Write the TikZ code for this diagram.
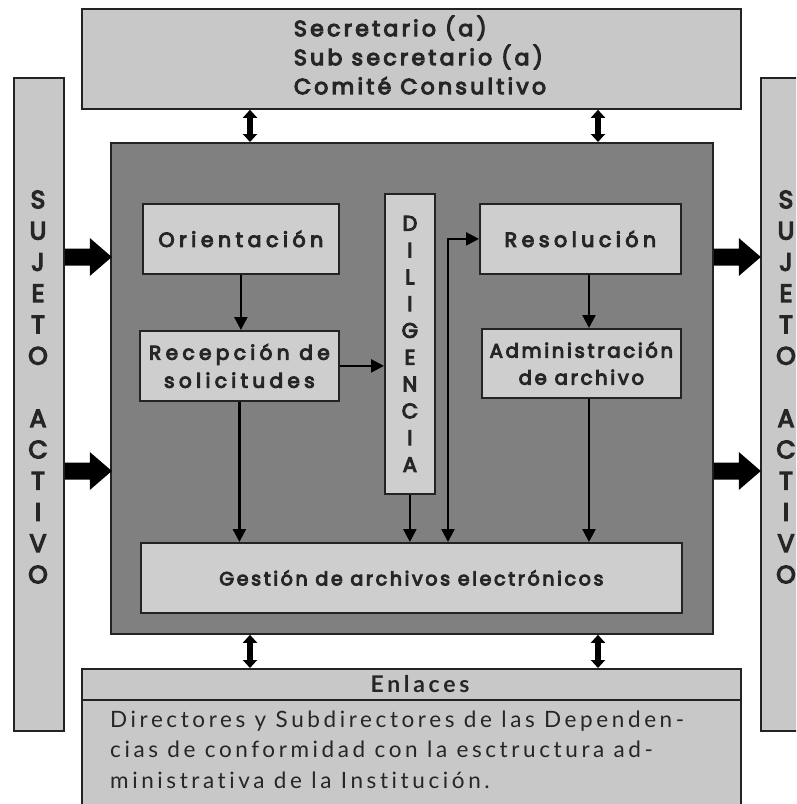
\documentclass[tikz,border=0pt]{standalone}
\usepackage{fontspec}
\setmainfont{Poppins}
\newfontfamily\popf{Poppins}[LetterSpace=15,FakeBold=5]
\newfontfamily\popg{Poppins}[LetterSpace=22,FakeBold=5]
\newfontfamily\poph{Poppins}[LetterSpace=14,FakeBold=5]
\newfontfamily\bodyf{Lato}[LetterSpace=16,Ligatures=NoCommon]
\newfontfamily\headf{Lato}[LetterSpace=16,Ligatures=NoCommon]
\usetikzlibrary{arrows.meta,calc}
\definecolor{lgray}{RGB}{200,200,200}
\definecolor{ibox}{RGB}{206,206,206}
\definecolor{dgray}{RGB}{128,128,128}
\definecolor{bdr}{RGB}{35,35,35}
\newcommand\fatarrow[1]{\fill[black] #1 ++(0,-8.5) -- ++(25,0) -- ++(0,-10.5) -- ++(22,19) -- ++(-22,19) -- ++(0,-10.5) -- ++(-25,0) -- cycle;}
\tikzset{
  box/.style={draw=bdr, line width=1.8pt, fill=ibox, inner sep=0pt, anchor=north west},
  txt/.style={inner sep=0pt, text=black!85, align=center},
  inarr/.style={draw=black, line width=2.4pt, -{Triangle[length=13pt,width=13pt]}},
  inarr2/.style={draw=black, line width=2.4pt, {Triangle[length=13pt,width=13pt]}-{Triangle[length=13pt,width=13pt]}},
  dblarr/.style={draw=black, line width=6pt, {Triangle[length=8pt,width=14pt]}-{Triangle[length=8pt,width=14pt]}}
}
\begin{document}
\begin{tikzpicture}[x=1pt,y=-1pt]
\useasboundingbox (0,0) rectangle (796,804);
\clip (0,0) rectangle (796,804);
% outer boxes
\node[box, fill=lgray, minimum width=659pt, minimum height=100pt] (top) at (81,8) {};
\node[txt, align=left, font=\popf\fontsize{22}{29}\selectfont] (toptxt) at (420,55) {Secretario (a)\\Sub secretario (a)\\Comité Consultivo};
\node[box, fill=lgray, minimum width=50pt, minimum height=653pt] (subjL) at (13,77) {};
\node[box, fill=lgray, minimum width=52pt, minimum height=653pt] (subjR) at (760,77) {};
\node[txt, font=\popf\fontsize{25}{31.25}\selectfont] (subjLtxt) at (38,387) {S\\U\\J\\E\\T\\O\\ \\A\\C\\T\\I\\V\\O};
\node[txt, font=\popf\fontsize{25}{31.25}\selectfont] (subjRtxt) at (786,387) {S\\U\\J\\E\\T\\O\\ \\A\\C\\T\\I\\V\\O};
\node[box, fill=dgray, minimum width=602pt, minimum height=491pt] (dark) at (110,142) {};
% inner boxes
\node[box, minimum width=196pt, minimum height=70pt] (orient) at (142,203) {};
\node[txt, font=\popg\fontsize{20.5}{28}\selectfont] at (orient.center) {Orientación};
\node[box, minimum width=199pt, minimum height=70pt] (recep) at (139,330) {};
\node[txt, font=\popg\fontsize{20}{28}\selectfont] at (recep.center) {Recepción de\\solicitudes};
\node[box, minimum width=50pt, minimum height=300pt] (dilig) at (384,193) {};
\node[txt, font=\popf\fontsize{21}{26.8}\selectfont] at (dilig.center) {D\\I\\L\\I\\G\\E\\N\\C\\I\\A};
\node[box, minimum width=201pt, minimum height=70pt] (resol) at (479,203) {};
\node[txt, font=\popg\fontsize{20.5}{28}\selectfont] at (resol.center) {Resolución};
\node[box, minimum width=199pt, minimum height=69pt] (admin) at (481,328) {};
\node[txt, font=\poph\fontsize{19.5}{27}\selectfont] at (admin.center) {Administración\\de archivo};
\node[box, minimum width=541pt, minimum height=70pt] (gest) at (140,542) {};
\node[txt, font=\poph\fontsize{19}{26}\selectfont] at (gest.center) {Gestión de archivos electrónicos};
% bottom box
\node[box, fill=lgray, minimum width=659pt, minimum height=31pt] (enlh) at (81,668) {};
\node[txt, font=\headf\bfseries\fontsize{23}{26}\selectfont] at (420,684) {Enlaces};
\node[box, fill=lgray, minimum width=659pt, minimum height=140pt] (enlb) at (81,699) {};
\node[txt, align=left, anchor=west, font=\bodyf\fontsize{22.5}{30.5}\selectfont] (enlbtxt) at (110,749.5) {Directores y Subdirectores de las Dependen-\\cias de conformidad con la esctructura ad-\\ministrativa de la Institución.};
% coordinates
\coordinate (c1) at (250,0);
\coordinate (c2) at (598,0);
\coordinate (bx) at (448,0);
\coordinate (ax) at (589,0);
% double arrows
\draw[dblarr] (top.south -| c1) -- (dark.north -| c1);
\draw[dblarr] (top.south -| c2) -- (dark.north -| c2);
\draw[dblarr] (dark.south -| c1) -- (enlh.north -| c1);
\draw[dblarr] (dark.south -| c2) -- (enlh.north -| c2);
% fat arrows
\fatarrow{(subjL.east |- 0,257)}
\fatarrow{(subjL.east |- 0,471)}
\fatarrow{(dark.east |- 0,257)}
\fatarrow{(dark.east |- 0,471)}
% inner arrows
\draw[inarr] (orient.south) -- (orient.south |- recep.north);
\draw[inarr] (recep.east) -- (recep.east -| dilig.west);
\draw[inarr] (recep.south) -- (recep.south |- gest.north);
\draw[inarr] (dilig.south) -- (dilig.south |- gest.north);
\draw[inarr2] (gest.north -| bx) |- (resol.west);
\draw[inarr] (resol.south -| ax) -- (admin.north -| ax);
\draw[inarr] (admin.south -| ax) -- (gest.north -| ax);
\end{tikzpicture}
\end{document}
